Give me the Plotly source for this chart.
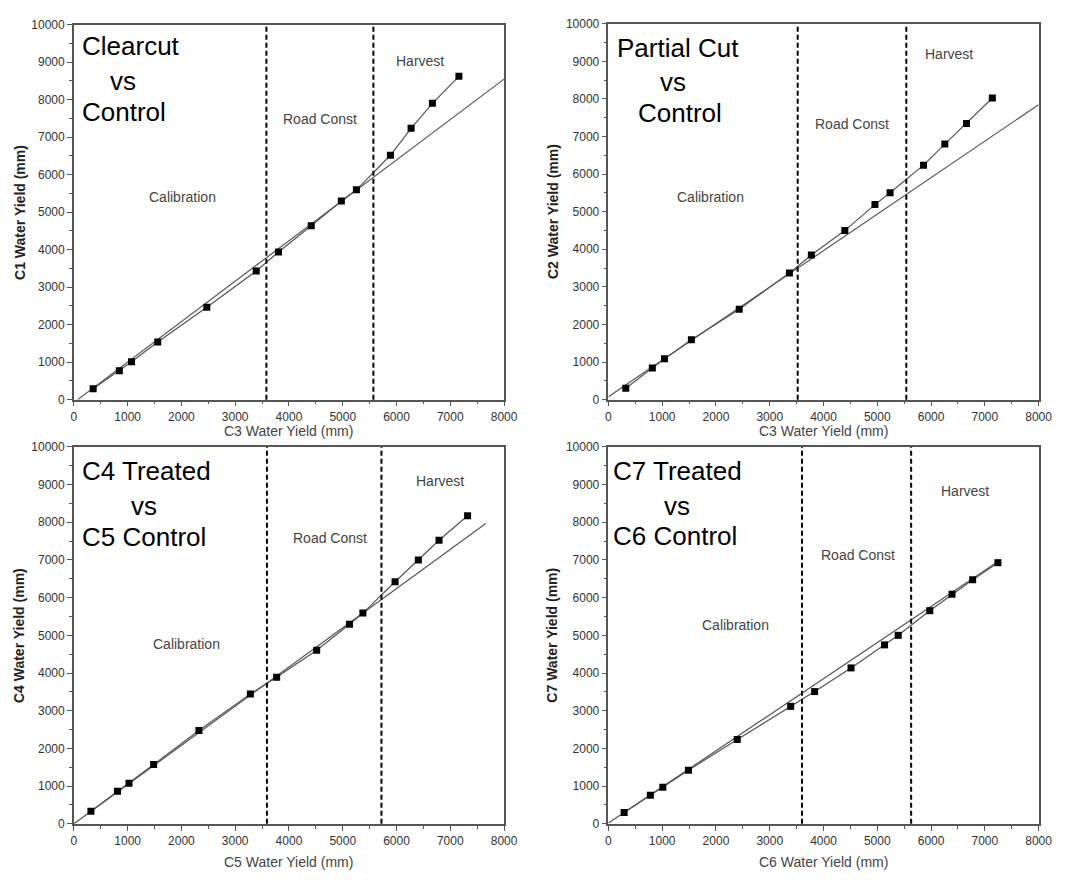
import plotly.graph_objects as go

# ---------------- data ----------------
p1_x = [359, 846, 1072, 1559, 2472, 3391, 3805, 4414, 4974, 5254, 5887, 6271, 6667, 7160]
p1_y = [289, 772, 1009, 1535, 2465, 3430, 3939, 4640, 5298, 5596, 6518, 7237, 7904, 8623]
p2_x = [323, 817, 1043, 1543, 2433, 3366, 3774, 4396, 4957, 5238, 5860, 6256, 6659, 7140]
p2_y = [306, 840, 1085, 1592, 2406, 3368, 3850, 4497, 5188, 5503, 6238, 6798, 7349, 8023]
p3_x = [317, 811, 1025, 1483, 2325, 3282, 3771, 4515, 5125, 5375, 5973, 6406, 6791, 7322]
p3_y = [332, 866, 1076, 1575, 2476, 3447, 3885, 4602, 5293, 5591, 6422, 6999, 7524, 8171]
p4_x = [293, 780, 1012, 1488, 2396, 3390, 3835, 4512, 5134, 5390, 5976, 6390, 6774, 7244]
p4_y = [297, 759, 969, 1422, 2234, 3115, 3508, 4136, 4747, 5000, 5654, 6091, 6475, 6928]

# calibration regression: slope, intercept, x extent
fit_slope = [1.078, 0.971, 1.040, 0.958]
fit_inter = [-75, 80, 0, 20]
fit_xmin = [70, 0, 0, 0]
fit_xmax = [8000, 8000, 7660, 7260]

# period boundaries (dashed lines)
road_start = [3580, 3520, 3590, 3600]
harvest_start = [5570, 5540, 5720, 5630]

x_titles = ["C3 Water Yield (mm)", "C3 Water Yield (mm)", "C5 Water Yield (mm)", "C6 Water Yield (mm)"]
y_titles = ["C1 Water Yield (mm)", "C2 Water Yield (mm)", "C4 Water Yield (mm)", "C7 Water Yield (mm)"]
titles = [["Clearcut", "vs", "Control"], ["Partial Cut", "vs", "Control"],
          ["C4 Treated", "vs", "C5 Control"], ["C7 Treated", "vs", "C6 Control"]]
period_labels = ["Calibration", "Road Const", "Harvest"]

xs = [p1_x, p2_x, p3_x, p4_x]
ys = [p1_y, p2_y, p3_y, p4_y]

# ---------------- layout helpers ----------------
W, H = 1090, 880
def px(x):
    return x / W
def py(y):
    return 1 - y / H

# plot area pixel boxes: left, right, top, bottom
boxes = [(72, 509, 18, 399), (615, 1052, 17, 399), (72, 509, 447, 830), (615, 1052, 447, 830)]
# title line positions (x left, y centre) for 3 lines
title_pos = [[(78, 40), (107, 75), (78, 107)],
             [(622, 42), (665, 76), (643, 108)],
             [(78, 472), (128, 507), (78, 539)],
             [(618, 472), (669, 507), (618, 538)]]
# period label centres
label_pos = [[(182, 193), (322, 114), (424, 55)],
             [(719, 193), (862, 119), (961, 48)],
             [(186, 647), (332, 540), (444, 482)],
             [(744, 628), (869, 557), (977, 492)]]
ytitle_x = [17, 558, 17, 558]
xtitle_y = [431, 431, 869, 869]

FONT = "Liberation Sans, Arial, sans-serif"
TICKFONT = "Liberation Sans Narrow, Arial Narrow, Liberation Sans, sans-serif"
fig = go.Figure()
annotations = []
shapes = []

for i in range(4):
    ax = "" if i == 0 else str(i + 1)
    xref, yref = "x" + ax, "y" + ax
    # regression line
    fx = [fit_xmin[i], fit_xmax[i]]
    fy = [fit_slope[i] * v + fit_inter[i] for v in fx]
    fig.add_trace(go.Scatter(x=fx, y=fy, mode="lines", xaxis=xref, yaxis=yref,
                             line=dict(color="#555555", width=1.2), showlegend=False, hoverinfo="skip"))
    # data
    fig.add_trace(go.Scatter(x=xs[i], y=ys[i], mode="lines+markers", xaxis=xref, yaxis=yref,
                             line=dict(color="#555555", width=1.2),
                             marker=dict(symbol="square", size=7, color="black"),
                             showlegend=False))
    for xv in (road_start[i], harvest_start[i]):
        shapes.append(dict(type="line", xref=xref, yref=yref + " domain", x0=xv, x1=xv, y0=0, y1=1,
                           line=dict(color="black", width=2, dash="5px,3px")))
    l, r, t, b = boxes[i]
    axis_common = dict(showgrid=False, zeroline=False, showline=True, linecolor="#555555", linewidth=1.5,
                       mirror=True, ticks="outside", ticklen=5, tickcolor="#555555", tickwidth=1,
                       tickformat="d",
                       tickfont=dict(family=TICKFONT, size=12, color="#333333"),
                       minor=dict(ticks="outside", ticklen=3, tickcolor="#555555", dtick=500))
    fig.layout["xaxis" + ax] = dict(domain=[px(l), px(r)], range=[0, 8000], dtick=1000,
                                    anchor=yref, **axis_common)
    fig.layout["yaxis" + ax] = dict(domain=[py(b), py(t)], range=[0, 10000], dtick=1000,
                                    anchor=xref, **axis_common)
    # titles
    for (tx, ty), txt in zip(title_pos[i], titles[i]):
        annotations.append(dict(text=txt, xref="paper", yref="paper", x=px(tx), y=py(ty),
                                xanchor="left", yanchor="middle", showarrow=False,
                                font=dict(family=FONT, size=26, color="black")))
    for (tx, ty), txt in zip(label_pos[i], period_labels):
        annotations.append(dict(text=txt, xref="paper", yref="paper", x=px(tx), y=py(ty),
                                xanchor="center", yanchor="middle", showarrow=False,
                                font=dict(family=FONT, size=14, color="#444444")))
    annotations.append(dict(text="<b>" + y_titles[i] + "</b>", xref="paper", yref="paper",
                            x=px(ytitle_x[i]), y=py((t + b) / 2), textangle=-90,
                            xanchor="center", yanchor="middle", showarrow=False,
                            font=dict(family=FONT, size=14, color="#222222")))
    annotations.append(dict(text=x_titles[i], xref="paper", yref="paper",
                            x=px((l + r) / 2), y=py(xtitle_y[i]),
                            xanchor="center", yanchor="middle", showarrow=False,
                            font=dict(family=FONT, size=14, color="#444444")))

fig.update_layout(width=W, height=H, margin=dict(l=0, r=0, t=0, b=0),
                  paper_bgcolor="white", plot_bgcolor="white",
                  annotations=annotations, shapes=shapes)

fig.write_html("out.html", config={"displayModeBar": False},
               post_script="document.body.style.margin='0';")
